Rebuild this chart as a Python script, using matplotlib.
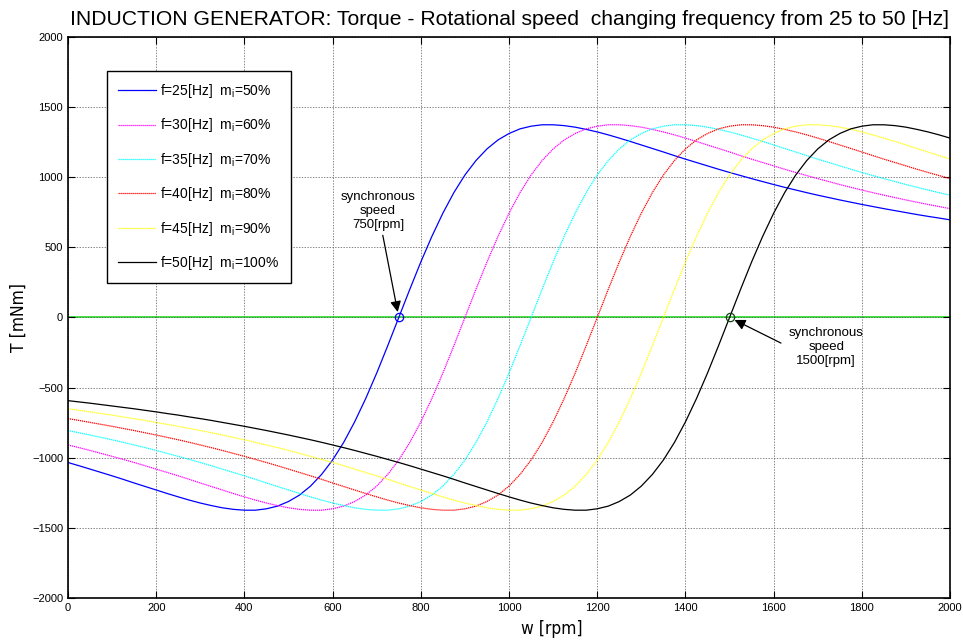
import matplotlib
matplotlib.use("Agg")
import matplotlib.pyplot as plt
import numpy as np

# velocidad de rotacion [rpm]
w = np.arange(0, 2001, 25)

# torque [mNm], cada 25 rpm
t_25 = [-1034, -1057, -1081, -1105, -1129, -1154, -1180, -1205, -1230, -1255,
        -1279, -1302, -1323, -1341, -1357, -1368, -1374, -1374, -1364, -1345,
        -1312, -1266, -1202, -1119, -1016, -891, -744, -578, -396, -201,
        0, 201, 396, 578, 744, 891, 1016, 1119, 1202, 1266,
        1312, 1345, 1364, 1374, 1374, 1368, 1357, 1341, 1323, 1302,
        1279, 1255, 1230, 1205, 1180, 1154, 1129, 1105, 1081, 1057,
        1034, 1012, 990, 969, 948, 928, 909, 890, 872, 855,
        838, 822, 806, 791, 776, 762, 748, 734, 721, 709,
        696]
t_30 = [-909, -928, -948, -969, -990, -1012,
        -1034, -1057, -1081, -1105, -1129, -1154, -1180, -1205, -1230, -1255,
        -1279, -1302, -1323, -1341, -1357, -1368, -1374, -1374, -1364, -1345,
        -1312, -1266, -1202, -1119, -1016, -891, -744, -578, -396, -201,
        0, 201, 396, 578, 744, 891, 1016, 1119, 1202, 1266,
        1312, 1345, 1364, 1374, 1374, 1368, 1357, 1341, 1323, 1302,
        1279, 1255, 1230, 1205, 1180, 1154, 1129, 1105, 1081, 1057,
        1034, 1012, 990, 969, 948, 928, 909, 890, 872, 855,
        838, 822, 806, 791, 776]
t_35 = [-806, -822,
        -838, -855, -872, -890, -909, -928, -948, -969, -990, -1012,
        -1034, -1057, -1081, -1105, -1129, -1154, -1180, -1205, -1230, -1255,
        -1279, -1302, -1323, -1341, -1357, -1368, -1374, -1374, -1364, -1345,
        -1312, -1266, -1202, -1119, -1016, -891, -744, -578, -396, -201,
        0, 201, 396, 578, 744, 891, 1016, 1119, 1202, 1266,
        1312, 1345, 1364, 1374, 1374, 1368, 1357, 1341, 1323, 1302,
        1279, 1255, 1230, 1205, 1180, 1154, 1129, 1105, 1081, 1057,
        1034, 1012, 990, 969, 948, 928, 909, 890, 872]
t_40 = [-721, -734, -748, -762, -776, -791, -806, -822,
        -838, -855, -872, -890, -909, -928, -948, -969, -990, -1012,
        -1034, -1057, -1081, -1105, -1129, -1154, -1180, -1205, -1230, -1255,
        -1279, -1302, -1323, -1341, -1357, -1368, -1374, -1374, -1364, -1345,
        -1312, -1266, -1202, -1119, -1016, -891, -744, -578, -396, -201,
        0, 201, 396, 578, 744, 891, 1016, 1119, 1202, 1266,
        1312, 1345, 1364, 1374, 1374, 1368, 1357, 1341, 1323, 1302,
        1279, 1255, 1230, 1205, 1180, 1154, 1129, 1105, 1081, 1057,
        1034, 1012, 990]
t_45 = [-651, -662, -673, -685,
        -696, -709, -721, -734, -748, -762, -776, -791, -806, -822,
        -838, -855, -872, -890, -909, -928, -948, -969, -990, -1012,
        -1034, -1057, -1081, -1105, -1129, -1154, -1180, -1205, -1230, -1255,
        -1279, -1302, -1323, -1341, -1357, -1368, -1374, -1374, -1364, -1345,
        -1312, -1266, -1202, -1119, -1016, -891, -744, -578, -396, -201,
        0, 201, 396, 578, 744, 891, 1016, 1119, 1202, 1266,
        1312, 1345, 1364, 1374, 1374, 1368, 1357, 1341, 1323, 1302,
        1279, 1255, 1230, 1205, 1180, 1154, 1129]
t_50 = [-593, -602, -611, -621, -631, -641, -651, -662, -673, -685,
        -696, -709, -721, -734, -748, -762, -776, -791, -806, -822,
        -838, -855, -872, -890, -909, -928, -948, -969, -990, -1012,
        -1034, -1057, -1081, -1105, -1129, -1154, -1180, -1205, -1230, -1255,
        -1279, -1302, -1323, -1341, -1357, -1368, -1374, -1374, -1364, -1345,
        -1312, -1266, -1202, -1119, -1016, -891, -744, -578, -396, -201,
        0, 201, 396, 578, 744, 891, 1016, 1119, 1202, 1266,
        1312, 1345, 1364, 1374, 1374, 1368, 1357, 1341, 1323, 1302,
        1279]

curvas = [t_25, t_30, t_35, t_40, t_45, t_50]
etiquetas = [r"f=25[Hz]  m$_{\rm i}$=50%", r"f=30[Hz]  m$_{\rm i}$=60%",
             r"f=35[Hz]  m$_{\rm i}$=70%", r"f=40[Hz]  m$_{\rm i}$=80%",
             r"f=45[Hz]  m$_{\rm i}$=90%", r"f=50[Hz]  m$_{\rm i}$=100%"]
colores = ["#0000ff", "#ff00ff", "#00ffff", "#ff0000", "#ffff00", "#000000"]
estilos = ["-", (0, (1, 0.6)), (0, (1, 0.6)), (0, (1, 0.6)), (0, (1, 0.6)), "-"]

plt.rcParams['font.family'] = ['Liberation Sans', 'DejaVu Sans']
plt.rcParams['mathtext.fontset'] = 'custom'
plt.rcParams['mathtext.rm'] = 'Liberation Sans'

fig = plt.figure(figsize=(9.63, 6.41), dpi=100)
ax = fig.add_axes([0.0706, 0.0671, 0.916, 0.8752])

for t, lab, c, ls in zip(curvas, etiquetas, colores, estilos):
    ax.plot(w, t, color=c, linestyle=ls, linewidth=0.9, label=lab)

ax.axhline(0, color='#22dd22', linewidth=1.2, zorder=1)
ax.plot([750], [0], 'o', mfc='none', mec='#0000ff', ms=6, mew=0.9)
ax.plot([1500], [0], 'o', mfc='none', mec='#114411', ms=6, mew=0.9)

ax.annotate("synchronous\nspeed\n750[rpm]", xy=(750, 0), xytext=(703, 760),
            ha='center', va='center', fontsize=9.5, linespacing=1.25,
            arrowprops=dict(arrowstyle='-|>', color='black', lw=0.9,
                            mutation_scale=16, shrinkA=1, shrinkB=4))
ax.annotate("synchronous\nspeed\n1500[rpm]", xy=(1500, 0), xytext=(1719, -210),
            ha='center', va='center', fontsize=9.5, linespacing=1.25,
            arrowprops=dict(arrowstyle='-|>', color='black', lw=0.9,
                            mutation_scale=16, shrinkA=4, shrinkB=4,
                            relpos=(0, 0.5)))

ax.set_xlim(0, 2000)
ax.set_ylim(-2000, 2000)
ax.set_xticks(np.arange(0, 2001, 200))
ax.set_yticks(np.arange(-2000, 2001, 500))
ax.tick_params(direction='in', top=True, right=True, labelsize=8, length=5)
ax.grid(True, color='#555555', linestyle=(0, (2, 2)), linewidth=0.5)
for s in ax.spines.values():
    s.set_linewidth(1.2)

ax.set_title("INDUCTION GENERATOR: Torque - Rotational speed  changing frequency from 25 to 50 [Hz]",
             fontsize=15.2, pad=8.5)
ax.set_xlabel("w [rpm]", fontsize=12.5, family='DejaVu Sans', fontstretch='condensed')
ax.set_ylabel("T [mNm]", fontsize=12.5, family='DejaVu Sans', fontstretch='condensed')
ax.yaxis.set_label_coords(-0.0556, 0.5)
ax.yaxis.label.set_va('center')
ax.xaxis.label.set_va('center')
ax.xaxis.set_label_coords(0.549, -0.055)

leg = ax.legend(loc='upper left', bbox_to_anchor=(0.0442, 0.9394), fontsize=10,
                labelspacing=1.18, handlelength=2.7, handletextpad=0.35,
                borderpad=0.8, borderaxespad=0, fancybox=False, framealpha=1,
                edgecolor='black')
leg.get_frame().set_linewidth(1.0)

fig.savefig("out.png", dpi=100)
